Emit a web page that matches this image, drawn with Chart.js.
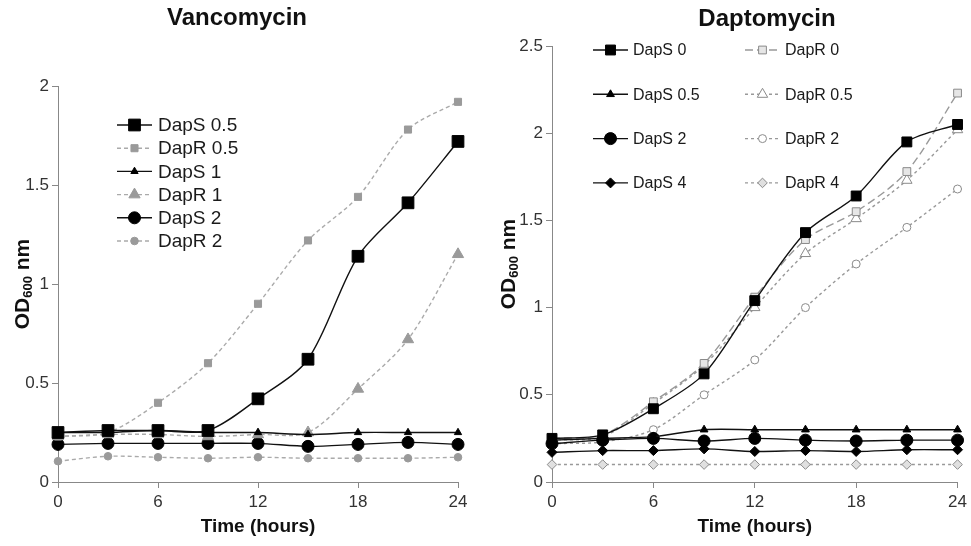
<!DOCTYPE html>
<html lang="en">
<head>
<meta charset="UTF-8">
<title>Vancomycin / Daptomycin growth curves</title>
<script src="https://cdn.jsdelivr.net/npm/chart.js@4.4.0/dist/chart.umd.min.js"></script>
<style>
    body { margin: 0; background: #fff; }
    #wrap { position: relative; width: 971px; height: 546px; }
    .box { position: absolute; top: 0; height: 546px; }
    #boxVanco { left: 0; width: 485px; }
    #boxDapto { left: 485px; width: 486px; }
</style>
</head>
<body>
<div id="wrap">
    <div class="box" id="boxVanco"><canvas id="vancoChart"></canvas></div>
    <div class="box" id="boxDapto"><canvas id="daptoChart"></canvas></div>
</div>
<script>
// time points (hours) and axis ticks
const hours = [0, 3, 6, 9, 12, 15, 18, 21, 24];
const xTicks = [0, 6, 12, 18, 24];
const vancoTicks = [0, 0.5, 1, 1.5, 2];
const daptoTicks = [0, 0.5, 1, 1.5, 2, 2.5];

// Vancomycin panel (OD600)
const vancoLabels = ['DapS 0.5', 'DapR 0.5', 'DapS 1', 'DapR 1', 'DapS 2', 'DapR 2'];
const vDapS05 = [0.25, 0.26, 0.26, 0.26, 0.42, 0.62, 1.14, 1.41, 1.72];
const vDapR05 = [0.23, 0.25, 0.40, 0.60, 0.90, 1.22, 1.44, 1.78, 1.92];
const vDapS1  = [0.25, 0.25, 0.26, 0.25, 0.25, 0.24, 0.25, 0.25, 0.25];
const vDapR1  = [0.23, 0.24, 0.24, 0.23, 0.24, 0.25, 0.47, 0.72, 1.15];
const vDapS2  = [0.19, 0.195, 0.195, 0.195, 0.195, 0.18, 0.19, 0.20, 0.19];
const vDapR2  = [0.105, 0.13, 0.125, 0.12, 0.125, 0.12, 0.12, 0.12, 0.125];

// Daptomycin panel (OD600)
const daptoLabels = ['DapS 0', 'DapS 0.5', 'DapS 2', 'DapS 4', 'DapR 0', 'DapR 0.5', 'DapR 2', 'DapR 4'];
const dDapS0  = [0.25, 0.27, 0.42, 0.62, 1.04, 1.43, 1.64, 1.95, 2.05];
const dDapS05 = [0.24, 0.25, 0.26, 0.30, 0.30, 0.30, 0.30, 0.30, 0.30];
const dDapS2  = [0.22, 0.24, 0.25, 0.235, 0.25, 0.24, 0.235, 0.24, 0.24];
const dDapS4  = [0.17, 0.18, 0.18, 0.19, 0.175, 0.18, 0.175, 0.185, 0.185];
const dDapR0  = [0.25, 0.27, 0.46, 0.68, 1.06, 1.39, 1.55, 1.78, 2.23];
const dDapR05 = [0.24, 0.26, 0.45, 0.67, 1.00, 1.31, 1.51, 1.73, 2.02];
const dDapR2  = [0.22, 0.23, 0.30, 0.50, 0.70, 1.00, 1.25, 1.46, 1.68];
const dDapR4  = [0.10, 0.10, 0.10, 0.10, 0.10, 0.10, 0.10, 0.10, 0.10];

const sans = "'Liberation Sans', Arial, sans-serif";

function pts(values) {
    return values.map((v, i) => ({ x: hours[i], y: v }));
}

function serie(label, values, style) {
    return Object.assign({
        label: label,
        data: pts(values),
        borderWidth: 1.4,
        tension: 0.3,
        clip: false,
        pointBorderWidth: 1
    }, style);
}

// black solid / grey dashed styles
function solid(shape, r) {
    return { borderColor: '#111', pointBackgroundColor: '#000', pointBorderColor: '#000',
             pointStyle: shape, pointRadius: r, pointHoverRadius: r };
}
function greyFilled(shape, r) {
    return { borderColor: '#aaa', borderDash: [4, 3], pointBackgroundColor: '#9a9a9a', pointBorderColor: '#9a9a9a',
             pointStyle: shape, pointRadius: r, pointHoverRadius: r };
}
function greyOpen(shape, r, fill, dash) {
    return { borderColor: '#999', borderDash: dash, pointBackgroundColor: fill, pointBorderColor: '#8a8a8a',
             pointStyle: shape, pointRadius: r, pointHoverRadius: r };
}

// titles, y title with subscript and the legend, all drawn on the canvas
const decor = {
    id: 'decor',
    afterDraw(chart, args, opts) {
        const ctx = chart.ctx;
        ctx.save();
        // panel title
        ctx.fillStyle = '#111';
        ctx.font = 'bold 24px ' + sans;
        ctx.textAlign = 'center';
        ctx.textBaseline = 'middle';
        ctx.fillText(opts.title, opts.titleX, opts.titleY);

        // y title: OD600 nm
        ctx.save();
        ctx.translate(opts.yTitleX, (chart.chartArea.top + chart.chartArea.bottom) / 2);
        ctx.rotate(-Math.PI / 2);
        ctx.textAlign = 'left';
        ctx.textBaseline = 'alphabetic';
        const big = 'bold 21px ' + sans, small = 'bold 13px ' + sans;
        ctx.font = big;
        const w1 = ctx.measureText('OD').width, w3 = ctx.measureText(' nm').width;
        ctx.font = small;
        const w2 = ctx.measureText('600').width;
        let x = -(w1 + w2 + w3) / 2;
        ctx.font = big; ctx.fillText('OD', x, 0); x += w1;
        ctx.font = small; ctx.fillText('600', x, 3); x += w2;
        ctx.font = big; ctx.fillText(' nm', x, 0);
        ctx.restore();

        // legend
        const lg = opts.legend;
        ctx.font = lg.size + 'px ' + sans;
        ctx.textAlign = 'left';
        ctx.textBaseline = 'middle';
        chart.data.datasets.forEach((ds, i) => {
            const col = Math.floor(i / lg.rows), row = i % lg.rows;
            const lx = lg.x + col * lg.colW, ly = lg.y + row * lg.rowH;
            ctx.save();
            ctx.strokeStyle = ds.borderColor;
            ctx.lineWidth = ds.borderWidth;
            ctx.setLineDash(ds.borderDash || []);
            ctx.beginPath();
            ctx.moveTo(lx, ly);
            ctx.lineTo(lx + lg.len, ly);
            ctx.stroke();
            ctx.setLineDash([]);
            ctx.fillStyle = ds.pointBackgroundColor;
            ctx.strokeStyle = ds.pointBorderColor;
            ctx.lineWidth = ds.pointBorderWidth;
            Chart.helpers.drawPoint(ctx, { pointStyle: ds.pointStyle, radius: ds.pointRadius, rotation: 0, borderWidth: ds.pointBorderWidth },
                lx + lg.len / 2, ly);
            ctx.restore();
            ctx.fillStyle = '#1a1a1a';
            ctx.fillText(ds.label, lx + lg.len + lg.gap, ly + 1);
        });
        ctx.restore();
    }
};

function makeScales(yMax, yTickList, yWidth) {
    return {
        x: {
            type: 'linear', min: 0, max: 24,
            afterBuildTicks: s => { s.ticks = xTicks.map(v => ({ value: v })); },
            afterFit: s => { s.height = 64; },
            grid: { display: true, drawOnChartArea: false, drawTicks: true, tickLength: 6, color: '#888' },
            border: { display: true, color: '#888', width: 1 },
            ticks: { color: '#333', font: { family: sans, size: 17 }, padding: 4, maxRotation: 0,
                     callback: v => String(v) },
            title: { display: true, text: 'Time (hours)', color: '#111',
                     font: { family: sans, size: 19, weight: 'bold' }, padding: { top: 0, bottom: 8 } }
        },
        y: {
            type: 'linear', min: 0, max: yMax,
            afterBuildTicks: s => { s.ticks = yTickList.map(v => ({ value: v })); },
            afterFit: s => { s.width = yWidth; },
            grid: { display: true, drawOnChartArea: false, drawTicks: true, tickLength: 6, color: '#888' },
            border: { display: true, color: '#888', width: 1 },
            ticks: { color: '#333', font: { family: sans, size: 17 }, padding: 3,
                     callback: v => String(v) }
        }
    };
}

const common = {
    responsive: true,
    maintainAspectRatio: false,
    animation: false,
    events: [],
    plugins: { legend: { display: false }, tooltip: { enabled: false } }
};

new Chart(document.getElementById('vancoChart'), {
    type: 'line',
    data: {
        datasets: [
            serie(vancoLabels[0], vDapS05, solid('rect', 8.3)),
            serie(vancoLabels[1], vDapR05, greyFilled('rect', 5)),
            serie(vancoLabels[2], vDapS1, solid('triangle', 4.2)),
            serie(vancoLabels[3], vDapR1, greyFilled('triangle', 6.5)),
            serie(vancoLabels[4], vDapS2, solid('circle', 6)),
            serie(vancoLabels[5], vDapR2, greyFilled('circle', 3.8))
        ]
    },
    options: Object.assign({}, common, {
        layout: { padding: { top: 86, right: 27, left: 0, bottom: 0 } },
        scales: makeScales(2, vancoTicks, 58),
        plugins: Object.assign({}, common.plugins, {
            decor: { title: 'Vancomycin', titleX: 237, titleY: 18, yTitleX: 29,
                     legend: { x: 117, y: 125, rows: 6, rowH: 23.2, colW: 0, len: 35, gap: 6, size: 19 } }
        })
    }),
    plugins: [decor]
});

new Chart(document.getElementById('daptoChart'), {
    type: 'line',
    data: {
        datasets: [
            serie(daptoLabels[0], dDapS0, solid('rect', 7)),
            serie(daptoLabels[1], dDapS05, solid('triangle', 4.5)),
            serie(daptoLabels[2], dDapS2, solid('circle', 6)),
            serie(daptoLabels[3], dDapS4, solid('rectRot', 5)),
            serie(daptoLabels[4], dDapR0, greyOpen('rect', 5.5, '#e6e6e6', [8, 4])),
            serie(daptoLabels[5], dDapR05, greyOpen('triangle', 6, '#fff', [3, 3])),
            serie(daptoLabels[6], dDapR2, greyOpen('circle', 4, '#fff', [3, 3])),
            serie(daptoLabels[7], dDapR4, greyOpen('rectRot', 4.8, '#e0e0e0', [3, 3]))
        ]
    },
    options: Object.assign({}, common, {
        layout: { padding: { top: 46, right: 11, left: 0, bottom: 0 } },
        scales: makeScales(2.5, daptoTicks, 67),
        plugins: Object.assign({}, common.plugins, {
            decor: { title: 'Daptomycin', titleX: 282, titleY: 19, yTitleX: 30,
                     legend: { x: 108, y: 50, rows: 4, rowH: 44.3, colW: 152, len: 35, gap: 5, size: 16 } }
        })
    }),
    plugins: [decor]
});
</script>
</body>
</html>
